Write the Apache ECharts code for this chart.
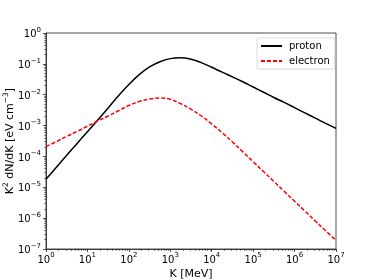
<!DOCTYPE html>
<html>
<head>
<meta charset="utf-8">
<script src="https://cdn.jsdelivr.net/npm/echarts@6/dist/echarts.min.js"></script>
<style>html,body{margin:0;padding:0;background:#fff}#c{width:374px;height:280px}</style>
</head>
<body>
<div id="c"></div>
<script>
// Kinetic energy K [MeV] (quarter-decade steps)
var energies = [1, 1.778, 3.162, 5.623, 10, 17.78, 31.62, 56.23, 100, 177.8, 316.2, 562.3, 1000, 1778, 3162, 5623,
  1e4, 1.778e4, 3.162e4, 5.623e4, 1e5, 1.778e5, 3.162e5, 5.623e5, 1e6, 1.778e6, 3.162e6, 5.623e6, 1e7];
// K^2 dN/dK [eV cm^-3]
var protonValues = [1.820e-5, 4.467e-5, 1.096e-4, 2.630e-4, 6.310e-4, 1.514e-3, 3.715e-3, 9.333e-3, 2.138e-2, 4.467e-2,
  7.943e-2, 0.1175, 0.1479, 0.1585, 0.1413, 0.1096, 7.762e-2, 5.370e-2, 3.802e-2, 2.630e-2, 1.778e-2, 1.202e-2,
  8.128e-3, 5.623e-3, 3.802e-3, 2.570e-3, 1.738e-3, 1.175e-3, 8.128e-4];
var electronValues = [2.089e-4, 3.020e-4, 4.467e-4, 6.457e-4, 9.550e-4, 1.413e-3, 2.042e-3, 3.020e-3, 4.467e-3, 6.026e-3,
  7.244e-3, 7.762e-3, 7.079e-3, 5.129e-3, 3.388e-3, 2.042e-3, 1.122e-3, 5.888e-4, 2.951e-4, 1.413e-4, 6.761e-5,
  3.236e-5, 1.549e-5, 7.413e-6, 3.548e-6, 1.698e-6, 8.128e-7, 3.890e-7, 1.905e-7];
var seriesNames = ['proton', 'electron'];
var xTickExps = [0, 1, 2, 3, 4, 5, 6, 7];
var yTickExps = [-7, -6, -5, -4, -3, -2, -1, 0];

function pow10Label(v) {
  var e = Math.round(Math.log10(v));
  return '{b|10}{s|' + String(e).replace('-', '\u2212') + '}';
}
function minorTicks(e0, e1) {
  var arr = [];
  for (var e = e0; e < e1; e++) {
    for (var m = 2; m <= 9; m++) arr.push(m * Math.pow(10, e));
  }
  return arr;
}
var xMajor = xTickExps.map(function (e) { return Math.pow(10, e); });
var yMajor = yTickExps.map(function (e) { return Math.pow(10, e); });

function zip(xs, ys) { return xs.map(function (x, i) { return [x, ys[i]]; }); }

var font = 'DejaVu Sans';
var axisColor = '#222';
var tickRich = {
  b: {fontFamily: font, fontSize: 10, color: '#000', lineHeight: 13, verticalAlign: 'bottom'},
  s: {fontFamily: font, fontSize: 7, color: '#000', lineHeight: 13, verticalAlign: 'top'}
};
var nameRich = {
  b: {fontFamily: font, fontSize: 11, color: '#000', lineHeight: 14, verticalAlign: 'bottom'},
  s: {fontFamily: font, fontSize: 7.5, color: '#000', lineHeight: 14, verticalAlign: 'top'}
};
var chart = echarts.init(document.getElementById('c'), null, {renderer: 'canvas'});
chart.setOption({
  animation: false,
  textStyle: {fontFamily: font},
  grid: {left: 46, right: 38, top: 33, bottom: 31, show: true, borderColor: axisColor, borderWidth: 0.8, backgroundColor: 'transparent', outerBoundsMode: 'none', containLabel: false},
  legend: {
    data: seriesNames,
    orient: 'vertical',
    left: 257, top: 38,
    padding: [3, 5, 3, 3],
    itemGap: 5,
    itemWidth: 21, itemHeight: 10,
    borderColor: '#d0d0d0', borderWidth: 0.8, borderRadius: 2,
    backgroundColor: 'rgba(255,255,255,0.8)',
    itemStyle: {opacity: 0},
    textStyle: {fontFamily: font, fontSize: 10, color: '#000', padding: [0, 0, 0, 2]}
  },
  xAxis: [{
    type: 'log', logBase: 10, min: 1, max: 1e7,
    name: 'K [MeV]', nameLocation: 'middle', nameGap: 20, nameMoveOverlap: false,
    nameTextStyle: {fontFamily: font, fontSize: 11, color: '#000'},
    axisLine: {show: true, onZero: false, lineStyle: {color: axisColor, width: 0.8}},
    axisTick: {show: true, inside: false, length: 3, lineStyle: {color: axisColor, width: 0.8}, customValues: xMajor},
    axisLabel: {show: true, margin: 3, formatter: pow10Label, rich: tickRich, customValues: xMajor},
    splitLine: {show: false}, minorTick: {show: false}
  }, {
    type: 'log', logBase: 10, min: 1, max: 1e7, position: 'bottom',
    axisLine: {show: false},
    axisTick: {show: true, inside: false, length: 1.8, lineStyle: {color: axisColor, width: 0.6}, customValues: minorTicks(0, 7)},
    axisLabel: {show: false},
    splitLine: {show: false}
  }],
  yAxis: [{
    type: 'log', logBase: 10, min: 1e-7, max: 1,
    name: '{b|K}{s|2}{b| dN/dK [eV cm}{s|\u22123}{b|]}', nameLocation: 'middle', nameGap: 30, nameRotate: 90, nameMoveOverlap: false,
    nameTextStyle: {fontFamily: font, fontSize: 11, color: '#000', rich: nameRich},
    axisLine: {show: true, onZero: false, lineStyle: {color: axisColor, width: 0.8}},
    axisTick: {show: true, inside: false, length: 3, lineStyle: {color: axisColor, width: 0.8}, customValues: yMajor},
    axisLabel: {show: true, margin: 5, formatter: pow10Label, rich: tickRich, customValues: yMajor},
    splitLine: {show: false}, minorTick: {show: false}
  }, {
    type: 'log', logBase: 10, min: 1e-7, max: 1, position: 'left',
    axisLine: {show: false},
    axisTick: {show: true, inside: false, length: 1.8, lineStyle: {color: axisColor, width: 0.6}, customValues: minorTicks(-7, 0)},
    axisLabel: {show: false},
    splitLine: {show: false}
  }],
  series: [{
    name: seriesNames[0], type: 'line', xAxisIndex: 0, yAxisIndex: 0,
    data: zip(energies, protonValues),
    smooth: 0.4, symbol: 'none',
    lineStyle: {color: '#000', width: 1.5}, itemStyle: {color: '#000'}
  }, {
    name: seriesNames[1], type: 'line', xAxisIndex: 0, yAxisIndex: 0,
    data: zip(energies, electronValues),
    smooth: 0.4, symbol: 'none',
    lineStyle: {color: '#ff0000', width: 1.5, type: [4, 2]}, itemStyle: {color: '#ff0000'}
  }]
});
</script>
</body>
</html>
